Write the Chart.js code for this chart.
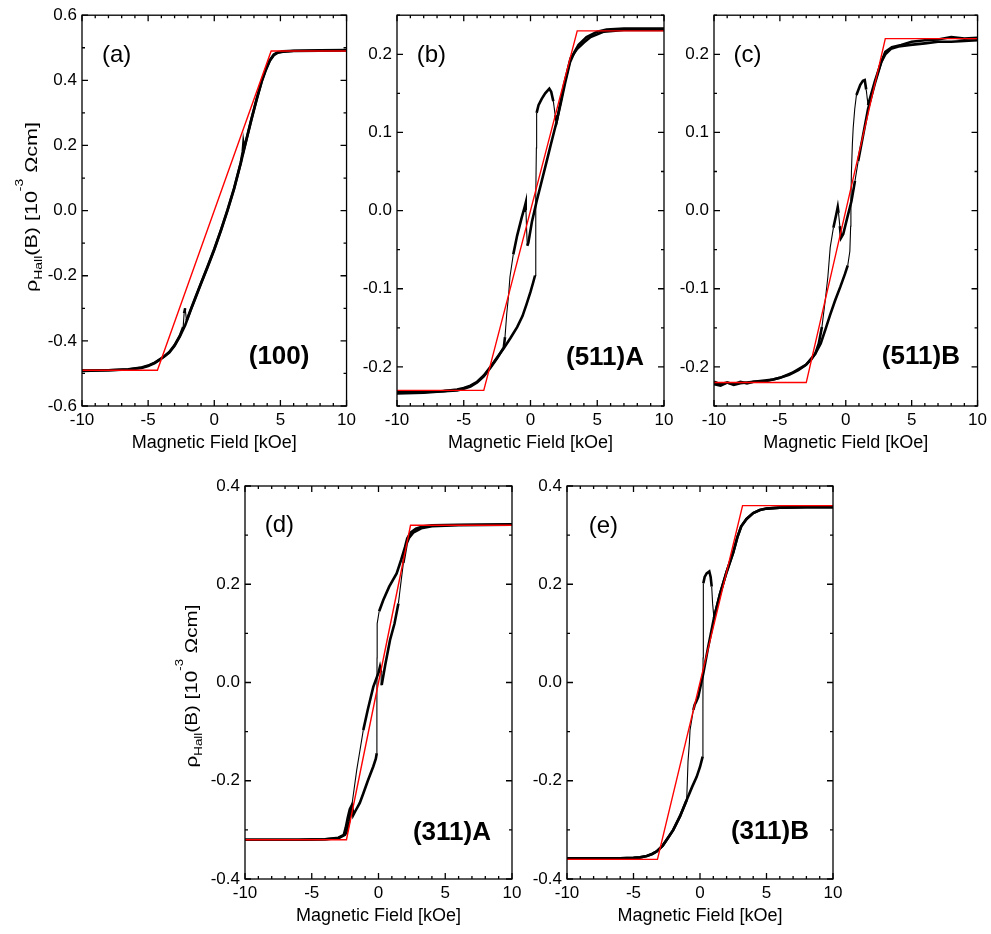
<!DOCTYPE html>
<html><head><meta charset="utf-8">
<script src="https://cdn.jsdelivr.net/npm/chart.js@4.4.0/dist/chart.umd.min.js"></script>
<style>
html,body{margin:0;padding:0;background:#fff;}
body{width:991px;height:934px;position:relative;overflow:hidden;}
canvas{position:absolute;}
</style></head><body>
<canvas id="ca"></canvas><canvas id="cb"></canvas><canvas id="cc"></canvas><canvas id="cd"></canvas><canvas id="ce"></canvas>
<script>
// ---------- tick labels ----------
const xTickValues = [-10, -5, 0, 5, 10];
const aYTicks = [-0.6, -0.4, -0.2, 0, 0.2, 0.4, 0.6];
const bcYTicks = [-0.2, -0.1, 0, 0.1, 0.2];
const deYTicks = [-0.4, -0.2, 0, 0.2, 0.4];

// ---------- (a) (100) ----------
const aFitX = [-10, -4.3, 4.3, 10];
const aFitY = [-0.49, -0.49, 0.49, 0.49];
const aUpX = [-10,-8,-6.5,-5.5,-5,-4.5,-4.2,-3.8,-3.4,-3.0,-2.6,-2.2,-1.8,-1.4,-1.0,-0.5,0,0.5,1.0,1.5,2.0,2.4,2.8,3.2,3.6,3.9,4.2,4.5,4.8,5.2,6,8,10];
const aUpY = [-0.492,-0.49,-0.488,-0.483,-0.477,-0.468,-0.46,-0.449,-0.436,-0.415,-0.386,-0.352,-0.308,-0.266,-0.224,-0.173,-0.12,-0.062,0.0,0.067,0.145,0.212,0.278,0.34,0.398,0.432,0.46,0.477,0.485,0.488,0.49,0.491,0.492];
const aDownX = [10,8,6,5.2,4.8,4.5,4.2,3.9,3.6,3.2,2.8,2.4,2.25,2.2,2.15,2.0,1.5,1.0,0.5,0,-0.5,-1.0,-1.4,-1.8,-2.1,-2.2,-2.28,-2.35,-2.6,-3.0,-3.4,-3.8,-4.2,-4.5,-5,-5.5,-6.5,-8,-10];
const aDownY = [0.493,0.492,0.491,0.489,0.486,0.479,0.462,0.434,0.4,0.342,0.28,0.214,0.19,0.205,0.18,0.147,0.069,0.002,-0.06,-0.118,-0.171,-0.222,-0.264,-0.306,-0.338,-0.30,-0.315,-0.357,-0.384,-0.413,-0.434,-0.448,-0.459,-0.467,-0.476,-0.482,-0.487,-0.49,-0.491];

// ---------- (b) (511)A ----------
const bFitX = [-10, -3.5, 3.5, 10];
const bFitY = [-0.23, -0.23, 0.23, 0.23];
const bUpX = [-10,-8,-6.5,-5.5,-5,-4.5,-4,-3.5,-3,-2.5,-2,-1.5,-1,-0.6,-0.3,0,0.2,0.34,0.38,0.41,0.44,0.46,0.6,0.84,1.1,1.41,1.55,1.71,1.85,1.96,2.3,2.6,2.96,3.3,3.6,4.2,5,5.7,7,10];
const bUpY = [-0.232,-0.232,-0.231,-0.229,-0.227,-0.224,-0.219,-0.211,-0.2,-0.188,-0.176,-0.163,-0.149,-0.135,-0.12,-0.104,-0.092,-0.083,-0.03,0.02,0.08,0.125,0.135,0.143,0.15,0.156,0.152,0.14,0.122,0.114,0.14,0.164,0.19,0.203,0.212,0.222,0.229,0.2315,0.233,0.233];
const bDownX = [10,7,5.5,4.5,4,3.5,3,2.5,1.96,1.5,1.21,0.8,0.46,0.1,-0.16,-0.24,-0.3,-0.34,-0.36,-0.45,-0.66,-1,-1.29,-1.54,-1.65,-1.78,-1.91,-2,-2.5,-3,-3.5,-4,-4.5,-5,-5.5,-6.5,-8,-10];
const bDownY = [0.231,0.231,0.229,0.222,0.215,0.207,0.195,0.16,0.114,0.083,0.063,0.035,0.012,-0.015,-0.041,-0.045,-0.02,0.0,0.01,0.004,-0.009,-0.032,-0.056,-0.085,-0.11,-0.132,-0.162,-0.175,-0.189,-0.201,-0.212,-0.22,-0.225,-0.228,-0.23,-0.231,-0.233,-0.234];

// ---------- (c) (511)B ----------
const cFitX = [-10, -3, 3, 10];
const cFitY = [-0.22, -0.22, 0.22, 0.22];
const cUpX = [-10,-9.5,-9,-8.5,-8,-7.5,-7,-6.5,-6,-5.5,-5,-4.3,-3.6,-3.06,-2.6,-2.31,-1.9,-1.56,-1.2,-0.81,-0.4,-0.06,0.15,0.31,0.37,0.39,0.43,0.5,0.56,0.68,0.81,1.1,1.3,1.44,1.55,1.69,2.2,2.69,3,3.43,4,4.9,6,7,8,9,10];
const cUpY = [-0.222,-0.224,-0.22,-0.222,-0.219,-0.221,-0.219,-0.218,-0.217,-0.216,-0.214,-0.21,-0.204,-0.198,-0.19,-0.183,-0.17,-0.153,-0.134,-0.115,-0.097,-0.081,-0.07,-0.052,-0.02,0.012,0.05,0.085,0.105,0.13,0.148,0.161,0.166,0.167,0.155,0.135,0.165,0.19,0.2,0.207,0.21,0.212,0.214,0.216,0.216,0.217,0.218];
const cDownX = [10,9,8,7,6,5,4.2,3.5,3,2.69,2.2,1.69,1.3,0.94,0.7,0.43,0.1,-0.19,-0.36,-0.45,-0.55,-0.61,-0.7,-0.94,-1.18,-1.36,-1.56,-1.81,-2.05,-2.31,-3,-4,-5,-6,-7,-8,-8.5,-9,-9.5,-10];
const cDownY = [0.221,0.22,0.222,0.219,0.218,0.216,0.212,0.209,0.203,0.19,0.162,0.13,0.095,0.063,0.038,0.012,-0.01,-0.03,-0.035,-0.02,-0.003,0.0045,-0.003,-0.022,-0.047,-0.085,-0.115,-0.149,-0.17,-0.183,-0.197,-0.207,-0.214,-0.218,-0.219,-0.221,-0.223,-0.22,-0.222,-0.219];

// ---------- (d) (311)A ----------
const dFitX = [-10, -2.4, 2.4, 10];
const dFitY = [-0.32, -0.32, 0.32, 0.32];
const dUpX = [-10,-6,-4,-3,-2.6,-2.45,-2.3,-2.15,-2.0,-1.92,-1.89,-1.7,-1.4,-1.14,-0.8,-0.39,-0.2,-0.13,-0.12,-0.11,-0.1,0.05,0.36,0.8,1.36,1.7,1.99,2.15,2.4,2.8,3.36,4,6,10];
const dUpY = [-0.32,-0.32,-0.319,-0.316,-0.31,-0.295,-0.275,-0.258,-0.25,-0.262,-0.27,-0.26,-0.245,-0.226,-0.2,-0.171,-0.155,-0.144,-0.05,0.05,0.12,0.145,0.168,0.195,0.222,0.25,0.276,0.293,0.305,0.313,0.318,0.32,0.321,0.322];
const dDownX = [10,6,4,3.2,2.6,2.3,2.11,1.86,1.49,1.2,0.86,0.5,0.24,0.2,0.11,0,-0.39,-0.8,-1.14,-1.4,-1.63,-2.01,-2.2,-2.38,-2.51,-3,-4,-6,-10];
const dDownY = [0.321,0.32,0.318,0.314,0.305,0.295,0.283,0.243,0.161,0.12,0.086,0.035,-0.005,0.02,0.032,0.02,-0.009,-0.055,-0.097,-0.14,-0.178,-0.253,-0.283,-0.304,-0.31,-0.317,-0.319,-0.32,-0.32];

// ---------- (e) (311)B ----------
const eFitX = [-10, -3.2, 3.2, 10];
const eFitY = [-0.36, -0.36, 0.36, 0.36];
const eUpX = [-10,-6,-5,-4.5,-4,-3.6,-3.26,-2.8,-2.4,-2.01,-1.5,-1,-0.6,-0.25,0,0.2,0.22,0.23,0.25,0.35,0.5,0.7,0.8,0.88,0.95,1.05,1.5,2,2.5,2.8,3.1,3.5,4,4.5,5,6,8,10];
const eUpY = [-0.358,-0.358,-0.357,-0.356,-0.353,-0.349,-0.344,-0.332,-0.316,-0.3,-0.272,-0.239,-0.213,-0.192,-0.172,-0.151,-0.05,0.05,0.202,0.215,0.222,0.226,0.215,0.195,0.16,0.131,0.18,0.225,0.265,0.295,0.318,0.333,0.345,0.351,0.354,0.356,0.357,0.357];
const eDownX = [10,8,6,5,4.5,4,3.5,3.1,2.8,2.5,2,1.5,1.05,0.6,0.25,-0.13,-0.3,-0.4,-0.5,-0.75,-0.8,-0.9,-0.95,-1,-1.5,-2.01,-2.4,-2.8,-3.26,-3.6,-4,-4.5,-5,-6,-10];
const eDownY = [0.357,0.357,0.356,0.354,0.351,0.345,0.333,0.318,0.295,0.265,0.225,0.18,0.131,0.07,0.019,-0.029,-0.04,-0.045,-0.056,-0.097,-0.124,-0.16,-0.2,-0.239,-0.272,-0.3,-0.316,-0.332,-0.344,-0.349,-0.353,-0.356,-0.357,-0.358,-0.358];

// ---------- layout / style ----------
const F = "'Liberation Sans', Arial, Helvetica, sans-serif";
const XAXIS_H = 50;

const panels = [
  {id:'a', left:0,   top:0,   w:360, h:460, area:[82,13,349,406],  yMin:-0.6,  yMax:0.6,  yTicks:aYTicks,  yMinor:0.1,  yMajor:0.2,
   tag:'(a)', tagPos:[0.131,0.102], label:'(100)',  labelPos:[0.745,0.875], yTitle:{x:37, y:207, len:170},
   fit:[aFitX,aFitY], up:[aUpX,aUpY], down:[aDownX,aDownY]},
  {id:'b', left:330, top:0,   w:350, h:460, area:[397,13,664,406], yMin:-0.25, yMax:0.25, yTicks:bcYTicks, yMinor:0.05, yMajor:0.1,
   tag:'(b)', tagPos:[0.129,0.102], label:'(511)A', labelPos:[0.779,0.878],
   fit:[bFitX,bFitY], up:[bUpX,bUpY], down:[bDownX,bDownY]},
  {id:'c', left:670, top:0,   w:321, h:460, area:[714,13,981,406], yMin:-0.25, yMax:0.25, yTicks:bcYTicks, yMinor:0.05, yMajor:0.1,
   tag:'(c)', tagPos:[0.127,0.102], label:'(511)B', labelPos:[0.785,0.875],
   fit:[cFitX,cFitY], up:[cUpX,cUpY], down:[cDownX,cDownY]},
  {id:'d', left:170, top:470, w:360, h:464, area:[245,486,512,879], yMin:-0.4, yMax:0.4, yTicks:deYTicks, yMinor:0.1, yMajor:0.2,
   tag:'(d)', tagPos:[0.129,0.099], label:'(311)A', labelPos:[0.775,0.883], yTitle:{x:197, y:686, len:163},
   fit:[dFitX,dFitY], up:[dUpX,dUpY], down:[dDownX,dDownY]},
  {id:'e', left:520, top:470, w:340, h:464, area:[567,486,833,879], yMin:-0.4, yMax:0.4, yTicks:deYTicks, yMinor:0.1, yMajor:0.2,
   tag:'(e)', tagPos:[0.137,0.104], label:'(311)B', labelPos:[0.763,0.879],
   fit:[eFitX,eFitY], up:[eUpX,eUpY], down:[eDownX,eDownY]}
];

function pts(xs, ys){ return xs.map((x,i)=>({x:x, y:ys[i]})); }

function drawYTitle(ctx, cx, cy, len){
  const parts = [['\u03C1',17,0],['Hall',11,5],['(B) [10',17,0],['-3',11,-14],[' \u03A9cm]',17,0]];
  let W = 0; const ws = [];
  for (const [t,s] of parts){ ctx.font = s+'px '+F; const w = ctx.measureText(t).width; ws.push(w); W += w; }
  ctx.save();
  ctx.translate(cx, cy);
  ctx.rotate(-Math.PI/2);
  ctx.scale(len/W, 1);
  ctx.fillStyle = '#000'; ctx.textAlign = 'left'; ctx.textBaseline = 'alphabetic';
  let x = -W/2;
  parts.forEach(([t,s,dy],i)=>{ ctx.font = s+'px '+F; ctx.fillText(t, x, dy); x += ws[i]; });
  ctx.restore();
}

const framePlugin = {
  id: 'frame',
  afterDatasetsDraw(chart){
    const o = chart.options.plugins.frame;
    const {ctx, chartArea:a, scales:{x, y}} = chart;
    ctx.save();
    ctx.strokeStyle = '#000'; ctx.lineWidth = 1.3;
    ctx.strokeRect(a.left, a.top, a.right - a.left, a.bottom - a.top);
    ctx.beginPath();
    const isMajor = (v, m) => Math.abs(v/m - Math.round(v/m)) < 1e-6;
    for (let i = 0; ; i++){
      const v = x.min + i*o.xMinor; if (v > x.max + 1e-9) break;
      const px = x.getPixelForValue(v); const len = isMajor(v, o.xMajor) ? 6 : 3;
      ctx.moveTo(px, a.bottom); ctx.lineTo(px, a.bottom - len);
      ctx.moveTo(px, a.top); ctx.lineTo(px, a.top + len);
    }
    for (let i = 0; ; i++){
      const v = y.min + i*o.yMinor; if (v > y.max + 1e-9) break;
      const py = y.getPixelForValue(v); const len = isMajor(v, o.yMajor) ? 6 : 3;
      ctx.moveTo(a.left, py); ctx.lineTo(a.left + len, py);
      ctx.moveTo(a.right, py); ctx.lineTo(a.right - len, py);
    }
    ctx.stroke();
    ctx.fillStyle = '#000'; ctx.textAlign = 'center'; ctx.textBaseline = 'middle';
    const W = a.right - a.left, H = a.bottom - a.top;
    ctx.font = '24px ' + F;
    ctx.fillText(o.tag, a.left + o.tagPos[0]*W, a.top + o.tagPos[1]*H);
    ctx.font = 'bold 26px ' + F;
    ctx.fillText(o.label, a.left + o.labelPos[0]*W, a.top + o.labelPos[1]*H);
    if (o.yTitle) drawYTitle(ctx, o.yTitle.x, o.yTitle.y, o.yTitle.len);
    ctx.restore();
  }
};

function lineWidthFor(c){
  const dx = Math.abs(c.p1.x - c.p0.x), dy = Math.abs(c.p1.y - c.p0.y);
  return (dy > 12 && dy > 6*dx) ? 1.1 : 2.6;
}

function makeChart(p){
  const cv = document.getElementById('c' + p.id);
  cv.width = p.w; cv.height = p.h;
  cv.style.left = p.left + 'px'; cv.style.top = p.top + 'px';
  cv.style.width = p.w + 'px'; cv.style.height = p.h + 'px';
  const [L, T, R, B] = p.area;
  const blackStyle = {borderColor:'#000', backgroundColor:'#000', borderWidth:2.6, pointRadius:0, tension:0, showLine:true,
                      segment:{borderWidth: lineWidthFor}};
  new Chart(cv, {
    type: 'scatter',
    data: {datasets: [
      {data: pts(p.fit[0], p.fit[1]), borderColor:'#ff0000', backgroundColor:'#ff0000', borderWidth:1.4, pointRadius:0, showLine:true, tension:0},
      Object.assign({data: pts(p.up[0], p.up[1])}, blackStyle),
      Object.assign({data: pts(p.down[0], p.down[1])}, blackStyle)
    ]},
    options: {
      responsive: false, animation: false, devicePixelRatio: 1,
      layout: {padding: {left: 0, top: T - p.top, right: p.left + p.w - R, bottom: p.top + p.h - B - XAXIS_H}},
      plugins: {
        legend: {display: false}, tooltip: {enabled: false},
        frame: {xMinor: 1, xMajor: 5, yMinor: p.yMinor, yMajor: p.yMajor, tag: p.tag, tagPos: p.tagPos,
                label: p.label, labelPos: p.labelPos,
                yTitle: p.yTitle ? {x: p.yTitle.x - p.left, y: p.yTitle.y - p.top, len: p.yTitle.len} : null}
      },
      scales: {
        x: {
          type: 'linear', min: -10, max: 10,
          afterBuildTicks: s => { s.ticks = xTickValues.map(v => ({value: v})); },
          afterFit: s => { s.height = XAXIS_H; },
          grid: {display: false, drawTicks: false}, border: {display: false},
          ticks: {padding: 4, color: '#000', font: {family: F, size: 17}, maxRotation: 0, autoSkip: false,
                  callback: v => String(v)},
          title: {display: true, text: 'Magnetic Field [kOe]', color: '#000', font: {family: F, size: 18}, padding: {top: 0, bottom: 2}}
        },
        y: {
          type: 'linear', min: p.yMin, max: p.yMax,
          afterBuildTicks: s => { s.ticks = p.yTicks.map(v => ({value: v})); },
          afterFit: s => { s.width = L - p.left; },
          grid: {display: false, drawTicks: false}, border: {display: false},
          ticks: {padding: 5, color: '#000', font: {family: F, size: 17}, autoSkip: false,
                  callback: v => (Math.abs(v) < 1e-9 ? 0 : v).toFixed(1)}
        }
      }
    },
    plugins: [framePlugin]
  });
}

panels.forEach(makeChart);
</script>
</body></html>
